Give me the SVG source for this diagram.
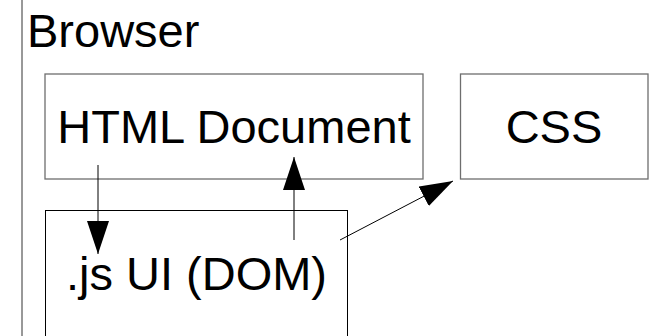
<svg xmlns="http://www.w3.org/2000/svg" width="650" height="336" viewBox="0 0 650 336">
  <style>
    .lbl { font-family: "Liberation Sans", Arial, sans-serif; font-size: 47px; fill: #000; }
    .box { fill: #fff; stroke: #6e6e6e; stroke-width: 1.3; }
    .box-dark { fill: #fff; stroke: #000; stroke-width: 1; }
    .conn { stroke: #000; stroke-width: 1; fill: none; marker-end: url(#head); }
  </style>
  <defs>
    <marker id="head" markerUnits="userSpaceOnUse" markerWidth="33" markerHeight="22" refX="33" refY="11" orient="auto">
      <path d="M0,0 L33,11 L0,22 Z" fill="#000"/>
    </marker>
  </defs>
  <rect width="650" height="336" fill="#fff"/>

  <!-- Browser frame (left edge) and title -->
  <g id="browser">
    <line x1="22" y1="0" x2="22" y2="336" stroke="#333" stroke-width="1"/>
    <text class="lbl" x="27" y="47">Browser</text>
  </g>

  <g id="html-document">
    <rect class="box" x="45" y="74" width="378" height="105"/>
    <text class="lbl" x="234" y="143" text-anchor="middle">HTML Document</text>
  </g>

  <g id="css">
    <rect class="box" x="460.5" y="74" width="187.5" height="105"/>
    <text class="lbl" x="554" y="143" text-anchor="middle">CSS</text>
  </g>

  <g id="js-ui">
    <rect class="box-dark" x="45.5" y="210.5" width="302" height="200"/>
    <text class="lbl" x="196.5" y="290" text-anchor="middle">.js UI (DOM)</text>
  </g>

  <g id="connectors">
    <line class="conn" x1="98" y1="165" x2="98" y2="254"/>
    <line class="conn" x1="294" y1="240" x2="294" y2="157"/>
    <line class="conn" x1="340" y1="240" x2="453" y2="181"/>
  </g>
</svg>
